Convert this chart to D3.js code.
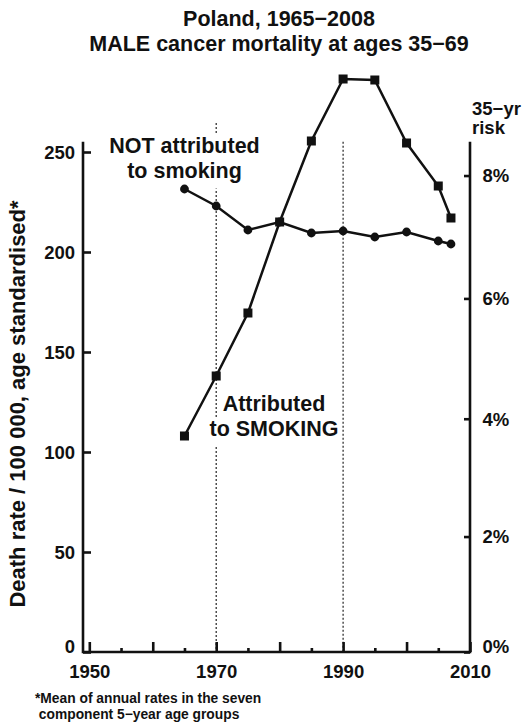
<!DOCTYPE html>
<html>
<head>
<meta charset="utf-8">
<script src="https://cdn.jsdelivr.net/npm/d3@7"></script>
<style>
  html, body { margin: 0; padding: 0; background: #fff; }
  svg { display: block; font-family: "Liberation Sans", Arial, Helvetica, sans-serif; font-weight: bold; }
</style>
</head>
<body>
<svg id="chart" width="524" height="722"></svg>
<script>
// ---- data ----
const years = [1965, 1970, 1975, 1980, 1985, 1990, 1995, 2000, 2005, 2007];
const attributedSmoking = [108, 138, 169.5, 215, 255.5, 286.5, 286, 254.5, 233, 217];
const notAttributed = [231.5, 223, 211, 215, 209.5, 210.5, 207.5, 210, 205.5, 204];
const xMajorTicks = [1950, 1960, 1970, 1980, 1990, 2000, 2010];
const xLabelTicks = [1950, 1970, 1990, 2010];
const xMinorTicks = [1955, 1965, 1975, 1985, 1995, 2005];
const yTicks = [0, 50, 100, 150, 200, 250];
const riskTicks = [0, 0.02, 0.04, 0.06, 0.08];
const riskLabels = ["0%", "2%", "4%", "6%", "8%"];
const refYears = [1970, 1990];
const titleLines = ["Poland, 1965\u22122008", "MALE cancer mortality at ages 35\u221269"];
const footLines = ["*Mean of annual rates in the seven", " component 5\u2212year age groups"];

// ---- layout ----
const svg = d3.select("#chart");
const x = d3.scaleLinear().domain([1950, 2010]).range([89.3, 470]);
const y = d3.scaleLinear().domain([0, 250]).range([652, 152]);
const axisLeftX = 83, axisRightX = 470, axisTop = 141.7, axisBottom = 652;
const rateFromRisk = p => -Math.log(1 - p) * 1e5 / 35;

// title
svg.append("g").selectAll("text").data(titleLines).join("text")
  .attr("x", 279).attr("y", (d, i) => 26 + i * 24.5)
  .attr("text-anchor", "middle").attr("font-size", 21.5).attr("fill", "#111")
  .text(d => d);

// dotted reference lines
const refTops = [123, 141.7];
svg.append("g").selectAll("line").data(refYears).join("line")
  .attr("x1", d => x(d)).attr("x2", d => x(d))
  .attr("y1", (d, i) => refTops[i]).attr("y2", axisBottom)
  .attr("stroke", "#222").attr("stroke-width", 1.2).attr("stroke-dasharray", "2,2");

// labels with white backing (hide the dotted lines behind them)
function label(lines, cx, y0, dy) {
  const g = svg.append("g");
  const bg = g.append("g");
  const t = g.selectAll("text").data(lines).join("text")
    .attr("x", cx).attr("y", (d, i) => y0 + i * dy)
    .attr("text-anchor", "middle").attr("font-size", 21.5).attr("fill", "#111").text(d => d);
  t.each(function () {
    const b = this.getBBox();
    bg.append("rect").attr("x", b.x - 3).attr("y", b.y + 1).attr("width", b.width + 6)
      .attr("height", b.height + 5).attr("fill", "#fff");
  });
}
label(["NOT attributed", "to smoking"], 184.5, 153, 24.5);
label(["Attributed", "to SMOKING"], 274, 410.7, 25);

// axes frames
const frame = svg.append("g").attr("stroke", "#111").attr("stroke-width", 2.6).attr("fill", "none");
frame.append("path").attr("d", `M${axisLeftX},${axisTop}V${axisBottom}H${axisRightX}V${axisTop}`)
  .attr("stroke-linejoin", "miter");

// left axis
const gl = svg.append("g").attr("transform", `translate(${axisLeftX},0)`)
  .call(d3.axisLeft(y).tickValues(yTicks).tickSize(-8).tickPadding(8));
gl.select(".domain").remove();
gl.selectAll(".tick line").attr("stroke", "#111").attr("stroke-width", 2.6);
gl.selectAll(".tick text").attr("font-size", 18.5).attr("fill", "#111")
  .attr("font-family", null)
  .attr("dy", d => d === 0 ? "0em" : "0.34em");

// right axis (35-yr risk)
const gr = svg.append("g").attr("transform", `translate(${axisRightX},0)`)
  .call(d3.axisRight(y).tickValues(riskTicks.map(rateFromRisk)).tickSize(-6).tickPadding(12.5)
    .tickFormat((d, i) => riskLabels[i]));
gr.select(".domain").remove();
gr.selectAll(".tick line").attr("stroke", "#111").attr("stroke-width", 2.6);
gr.selectAll(".tick text").attr("font-size", 18.5).attr("fill", "#111")
  .attr("font-family", null)
  .attr("dy", (d, i) => i === 0 ? "0em" : "0.34em");

// bottom axis
const gb = svg.append("g").attr("transform", `translate(0,${axisBottom})`)
  .call(d3.axisBottom(x).tickValues(xMajorTicks).tickSize(-10).tickPadding(13)
    .tickFormat(d => xLabelTicks.includes(d) ? d : ""));
gb.select(".domain").remove();
gb.selectAll(".tick line").attr("stroke", "#111").attr("stroke-width", 2.6);
gb.selectAll(".tick text").attr("font-size", 18.5).attr("fill", "#111").attr("font-family", null);
const gbm = svg.append("g").attr("transform", `translate(0,${axisBottom})`)
  .call(d3.axisBottom(x).tickValues(xMinorTicks).tickSize(-4).tickFormat(""));
gbm.select(".domain").remove();
gbm.selectAll(".tick line").attr("stroke", "#111").attr("stroke-width", 2.6);

// risk header
svg.append("g").selectAll("text").data(["35\u2212yr", "risk"]).join("text")
  .attr("x", 472).attr("y", (d, i) => 115 + i * 19)
  .attr("font-size", 18.5).attr("fill", "#111").text(d => d);

// y title
svg.append("text")
  .attr("transform", "translate(25,404) rotate(-90)")
  .attr("text-anchor", "middle").attr("font-size", 22).attr("fill", "#111")
  .text("Death rate / 100 000, age standardised*");

// series
const pts = (vals) => years.map((yr, i) => [yr, vals[i]]);
const line = d3.line().x(d => x(d[0])).y(d => y(d[1]));
svg.append("path").datum(pts(notAttributed)).attr("d", line)
  .attr("fill", "none").attr("stroke", "#111").attr("stroke-width", 2.5);
svg.append("path").datum(pts(attributedSmoking)).attr("d", line)
  .attr("fill", "none").attr("stroke", "#111").attr("stroke-width", 2.5);
svg.append("g").selectAll("circle").data(pts(notAttributed)).join("circle")
  .attr("cx", d => x(d[0])).attr("cy", d => y(d[1])).attr("r", 4.4).attr("fill", "#111");
const sq = 9;
svg.append("g").selectAll("rect").data(pts(attributedSmoking)).join("rect")
  .attr("x", d => x(d[0]) - sq / 2).attr("y", d => y(d[1]) - sq / 2)
  .attr("width", sq).attr("height", sq).attr("fill", "#111");

// footnote
svg.append("g").selectAll("text").data(footLines).join("text")
  .attr("x", 35).attr("y", (d, i) => 702.7 + i * 16.5)
  .attr("font-size", 13.8).attr("fill", "#111").attr("xml:space", "preserve")
  .style("white-space", "pre").text(d => d);
</script>
</body>
</html>
